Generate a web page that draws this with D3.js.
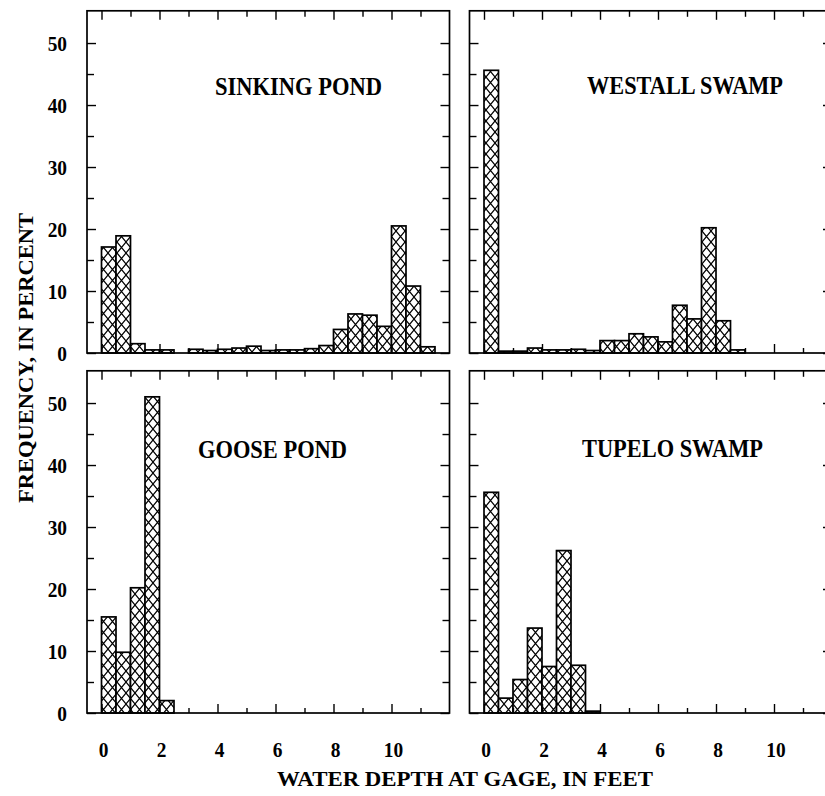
<!DOCTYPE html>
<html><head><meta charset="utf-8">
<script src="https://cdn.jsdelivr.net/npm/d3@7"></script>
<style>body{margin:0;background:#fff} svg{display:block}</style>
</head><body><svg id="chart" width="825" height="796"></svg>
<script>
// ---- data ----
const depthBins = [0,0.5,1,1.5,2,2.5,3,3.5,4,4.5,5,5.5,6,6.5,7,7.5,8,8.5,9,9.5,10,10.5,11,11.5];
const panelNames = ["SINKING POND","WESTALL SWAMP","GOOSE POND","TUPELO SWAMP"];
const sinkingPond = [17.1,18.9,1.5,0.5,0.5,0,0.6,0.4,0.6,0.8,1.1,0.4,0.5,0.5,0.7,1.2,3.8,6.3,6.1,4.3,20.5,10.8,1.0];
const westallSwamp = [45.6,0.3,0.3,0.8,0.5,0.5,0.6,0.4,2.0,2.0,3.1,2.6,1.8,7.7,5.5,20.2,5.2,0.5];
const goosePond = [15.5,9.8,20.2,51.0,2.0];
const tupeloSwamp = [35.6,2.4,5.4,13.7,7.5,26.2,7.7,0.3];
const xMajorTicks = [0,2,4,6,8,10];
const xMinorTicks = [1,3,5,7,9,11];
const xTickLabels = ["0","2","4","6","8","10"];
const yMajorTicks = [0,10,20,30,40,50];
const yMinorTicks = [5,15,25,35,45];
const yTickLabels = ["0","10","20","30","40","50"];
const xTitle = "WATER DEPTH AT GAGE, IN FEET";
const yTitle = "FREQUENCY, IN PERCENT";
const binWidth = 0.5;

// ---- layout ----
const seriesList = [sinkingPond, westallSwamp, goosePond, tupeloSwamp];
const cols = [[87,449.5],[469.5,832]];
const rows = [[353,10.8],[713,370.8]];
const titlePos = [[215,95,167],[587,94,196],[198,458,149],[582,457,181]];
const FONT = "'Liberation Serif','Times New Roman',serif";

const svg = d3.select("#chart");
const defs = svg.append("defs");
const PW = 9, PH = 11;
const pat = defs.append("pattern").attr("id","hatch").attr("patternUnits","userSpaceOnUse")
  .attr("width",PW).attr("height",PH);
pat.append("rect").attr("width",PW).attr("height",PH).attr("fill","#fff");
pat.append("path").attr("d",`M${-PW},${-PH}L${2*PW},${2*PH}M${2*PW},${-PH}L${-PW},${2*PH}`)
  .attr("stroke","#000").attr("stroke-width",1.2).attr("fill","none");

seriesList.forEach((vals,i)=>{
  const col = i%2, row = Math.floor(i/2);
  const x = d3.scaleLinear().domain([-0.5,12]).range(cols[col]);
  const y = d3.scaleLinear().domain([0,55.2]).range(rows[row]);
  const g = svg.append("g");
  const [x0,x1] = cols[col], [yb,yt] = rows[row];

  // bars
  const bars = vals.map((v,j)=>({v, start: depthBins[j]})).filter(d=>d.v>0);
  g.selectAll("rect.bar").data(bars).join("rect").attr("class","bar")
    .attr("x",d=>x(d.start)).attr("width",d=>x(d.start+binWidth)-x(d.start))
    .attr("y",d=>y(d.v)).attr("height",d=>y(0)-y(d.v))
    .attr("fill","url(#hatch)").attr("stroke","#000").attr("stroke-width",1.7);

  // ticks via axes (inward)
  const tk = (axis, tr) => { const a = g.append("g").attr("transform",tr).call(axis);
    a.select(".domain").remove(); a.selectAll("line").attr("stroke","#000").attr("stroke-width",1.4); a.selectAll("text").remove(); };
  tk(d3.axisRight(y).tickValues(yMajorTicks).tickSize(9), `translate(${x0},0)`);
  tk(d3.axisRight(y).tickValues(yMinorTicks).tickSize(7), `translate(${x0},0)`);
  tk(d3.axisLeft(y).tickValues(yMajorTicks).tickSize(9), `translate(${x1},0)`);
  tk(d3.axisLeft(y).tickValues(yMinorTicks).tickSize(7), `translate(${x1},0)`);
  tk(d3.axisBottom(x).tickValues(xMajorTicks).tickSize(9), `translate(0,${yt})`);
  tk(d3.axisBottom(x).tickValues(xMinorTicks).tickSize(6), `translate(0,${yt})`);
  tk(d3.axisTop(x).tickValues(xMajorTicks).tickSize(9), `translate(0,${yb})`);
  tk(d3.axisTop(x).tickValues(xMinorTicks).tickSize(5), `translate(0,${yb})`);

  // frame
  g.append("rect").attr("x",x0).attr("y",yt).attr("width",x1-x0).attr("height",yb-yt)
    .attr("fill","none").attr("stroke","#000").attr("stroke-width",1.7);

  // panel title
  const tp = titlePos[i];
  g.append("text").attr("x",tp[0]).attr("y",tp[1]).text(panelNames[i])
    .attr("font-family",FONT).attr("font-weight","bold").attr("font-size",25)
    .attr("textLength",tp[2]).attr("lengthAdjust","spacingAndGlyphs");

  // y labels
  if (col===0) {
    g.selectAll("text.yl").data(yMajorTicks).join("text").attr("class","yl")
      .attr("transform",d=>`translate(67,${y(d)}) scale(0.88,1)`).attr("dy","0.36em").attr("text-anchor","end")
      .attr("font-family",FONT).attr("font-weight","bold").attr("font-size",22)
      .text((d,j)=>yTickLabels[j]);
  }
  // x labels
  if (row===1) {
    g.selectAll("text.xl").data(xMajorTicks).join("text").attr("class","xl")
      .attr("transform",d=>`translate(${x(d)+2},757) scale(0.88,1)`).attr("text-anchor","middle")
      .attr("font-family",FONT).attr("font-weight","bold").attr("font-size",22)
      .text((d,j)=>xTickLabels[j]);
  }
});

svg.append("text").attr("x",465).attr("y",786).attr("text-anchor","middle")
  .attr("font-family",FONT).attr("font-weight","bold").attr("font-size",21)
  .attr("textLength",376).attr("lengthAdjust","spacingAndGlyphs").text(xTitle);
svg.append("text").attr("transform","translate(33,358) rotate(-90)").attr("text-anchor","middle")
  .attr("font-family",FONT).attr("font-weight","bold").attr("font-size",22)
  .attr("textLength",290).attr("lengthAdjust","spacingAndGlyphs").text(yTitle);
</script></body></html>
